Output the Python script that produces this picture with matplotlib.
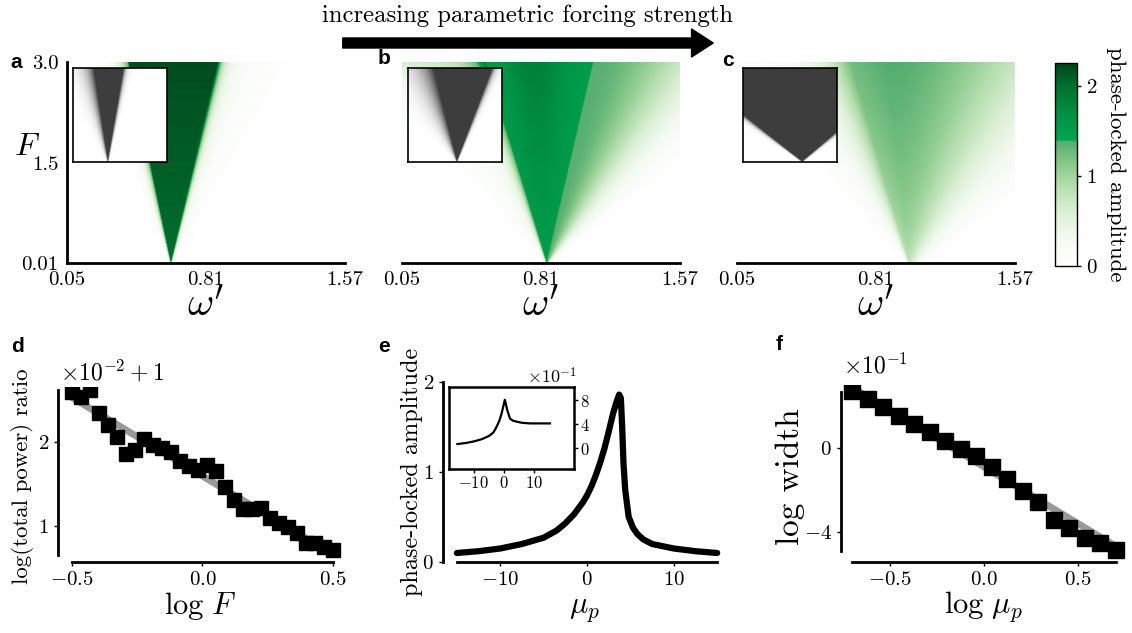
import numpy as np
import matplotlib
matplotlib.use('Agg')
import matplotlib.pyplot as plt
from matplotlib.colors import LinearSegmentedColormap
from matplotlib.patches import FancyArrowPatch

plt.rcParams['font.family'] = 'serif'
plt.rcParams['font.serif'] = ['cmr10']
plt.rcParams['mathtext.fontset'] = 'cm'
plt.rcParams['axes.formatter.use_mathtext'] = True
plt.rcParams['axes.unicode_minus'] = True

# ---------------- data ----------------
omega_range = [0.05, 1.57]
F_range = [0.01, 3.0]
omega_ticks = [0.05, 0.81, 1.57]
F_ticks = [0.01, 1.5, 3.0]

# tongue geometry of panels a, b, c (omega' of tip, left / right edge at F = 3)
tip_omega = [0.617, 0.841, 0.987]
left_top = [0.385, 0.509, 0.67]
right_top = [0.877, 1.096, 0.87]
amp_bottom = [2.0, 1.5, 0.6]
amp_top = [2.2, 1.85, 1.38]
fade_left = [0.05, 0.06, 0.2]
fade_right = [0.02, 0.6, 0.85]

# insets (fraction of inset width / height)
inset_tip = [0.37, 0.52, 0.63]
inset_left_top = [0.22, 0.27, -0.63]
inset_right_top = [0.54, 0.90, 1.79]
inset_fade_left = [0.08, 0.15, 0.07]
inset_fade_right = [0.02, 0.03, 0.07]

# colour scale of the amplitude maps
cmap_values = [0.0, 0.3, 0.6, 0.9, 1.15, 1.385, 1.40, 1.7, 2.0, 2.25]
cmap_colors = ['#ffffff', '#f3faf1', '#dcefd6', '#b2ddac', '#85c789', '#52ad6e',
               '#00a651', '#008f43', '#00702f', '#00441b']
amp_max = 2.25

# d
logF = [-0.5, -0.466, -0.431, -0.397, -0.362, -0.328, -0.293, -0.259, -0.224, -0.190,
        -0.155, -0.121, -0.086, -0.052, -0.017, 0.017, 0.052, 0.086, 0.121, 0.155,
        0.190, 0.224, 0.259, 0.293, 0.328, 0.362, 0.397, 0.431, 0.466, 0.5]
power_ratio = [2.59, 2.54, 2.62, 2.34, 2.20, 2.06, 1.86, 1.90, 2.03, 1.96,
               1.93, 1.88, 1.77, 1.71, 1.67, 1.73, 1.66, 1.46, 1.31, 1.20,
               1.20, 1.21, 1.10, 1.03, 0.99, 0.92, 0.80, 0.80, 0.75, 0.71]
d_fit_x = [-0.5, 0.5]
d_fit_y = [2.53, 0.66]

# e
mu_p = [-15, -12.5, -10, -7.5, -5, -3.5, -2.5, -1.5, -0.5, 0, 0.5, 1.0, 1.5, 2.0, 2.5,
        3.0, 3.4, 3.7, 3.9, 4.05, 4.2, 4.4, 4.8, 5.3, 5.8, 6.5, 7.5, 9, 10, 12.5, 15]
locked_amp = [0.10, 0.12, 0.15, 0.20, 0.27, 0.35, 0.43, 0.53, 0.66, 0.74, 0.84, 0.96,
              1.10, 1.26, 1.45, 1.65, 1.78, 1.86, 1.82, 1.50, 1.10, 0.80, 0.50, 0.38,
              0.31, 0.25, 0.20, 0.17, 0.15, 0.12, 0.10]
mu_inset = [-15.5, -12.5, -10, -7.5, -5, -3.5, -2.4, -1.5, -0.8, 0.3, 1.1, 2.0, 3.0,
            4.2, 6.0, 8.7, 12, 15.3]
amp_inset = [0.66, 0.85, 1.1, 1.45, 2.0, 2.6, 3.6, 4.6, 5.75, 8.05, 6.3, 4.9, 4.55,
             4.4, 4.2, 4.1, 4.1, 4.1]

# f
log_mu = [-0.70, -0.618, -0.535, -0.453, -0.371, -0.288, -0.206, -0.124, -0.041,
          0.041, 0.124, 0.206, 0.288, 0.371, 0.453, 0.535, 0.618, 0.70]
log_width = [2.72, 2.35, 1.95, 1.52, 1.12, 0.75, 0.35, -0.05, -0.40,
             -0.91, -1.49, -2.05, -2.56, -3.41, -3.81, -4.29, -4.53, -4.88]
f_fit_x = [-0.7, 0.7]
f_fit_y = [2.88, -4.68]


def amplitude_map(i, w, f):
    s = (f - F_range[0]) / (F_range[1] - F_range[0])
    L = tip_omega[i] + (left_top[i] - tip_omega[i]) * s
    R = tip_omega[i] + (right_top[i] - tip_omega[i]) * s
    A = amp_bottom[i] + (amp_top[i] - amp_bottom[i]) * s
    wl = 0.004 + fade_left[i] * s
    wr = 0.004 + fade_right[i] * s
    if i == 0:
        val = np.where((w >= L) & (w <= R), A, 0.0)
        val = np.where(w < L, 1.45 * np.exp(-(L - w) / wl), val)
        val = np.where(w > R, 1.45 * np.exp(-(w - R) / wr)
                       + 0.5 * np.exp(-(w - R) / (0.004 + 0.15 * s)), val)
    elif i == 1:
        C = tip_omega[i] + (0.77 - tip_omega[i]) * s
        core = amp_bottom[i] + (amp_top[i] - amp_bottom[i]) * s * np.exp(-((w - C) / (0.06 + 0.12 * s)) ** 2)
        val = np.where((w >= L) & (w <= R), core, 0.0)
        val = np.where(w < L, 1.0 * np.exp(-(L - w) / wl)
                       + 0.45 * np.exp(-(L - w) / (0.01 + 0.25 * s)) + 0.55 * s ** 6, val)
        val = np.where(w > R, 1.36 * np.exp(-((w - R) / (0.01 + fade_right[i] * s)) ** 2), val)
    else:
        A = amp_bottom[i] + (amp_top[i] - amp_bottom[i]) * s ** 0.35
        C = tip_omega[i] + (right_top[i] - tip_omega[i]) * s
        mid = A * (0.9 + 0.1 * (w - L) / (C - L + 1e-9))
        val = np.where(w < L, A * 0.9 * np.exp(-(L - w) / wl), mid)
        val = np.where(w > C, A * np.exp(-((w - C) / (0.05 + fade_right[i] * s)) ** 2), val)
    return val


def inset_map(i, u, v):
    L = inset_tip[i] + (inset_left_top[i] - inset_tip[i]) * v
    R = inset_tip[i] + (inset_right_top[i] - inset_tip[i]) * v
    val = np.where((u >= L) & (u <= R), 1.0, 0.0)
    val = np.where(u < L, np.exp(-(L - u) / (0.003 + inset_fade_left[i] * v)), val)
    val = np.where(u > R, np.exp(-(u - R) / (0.003 + inset_fade_right[i] * v)), val)
    return val


W_PX, H_PX = 1132, 633
fig = plt.figure(figsize=(11.32, 6.33), dpi=100)


def px_axes(left, top, right, bottom):
    return fig.add_axes([left / W_PX, 1 - bottom / H_PX, (right - left) / W_PX, (bottom - top) / H_PX])


amp_cmap = LinearSegmentedColormap.from_list(
    'amp', [(v / amp_max, c) for v, c in zip(cmap_values, cmap_colors)])
grey_cmap = LinearSegmentedColormap.from_list('grey', ['#ffffff', '#3d3d3d'])

ww, ff = np.meshgrid(np.linspace(omega_range[0], omega_range[1], 400),
                     np.linspace(F_range[0], F_range[1], 300))
uu, vv = np.meshgrid(np.linspace(0, 1, 150), np.linspace(0, 1, 150))

lefts = [67, 402, 737]
for i, x0 in enumerate(lefts):
    ax = px_axes(x0, 62, x0 + 278, 263)
    im = ax.imshow(amplitude_map(i, ww, ff), origin='lower', aspect='auto', cmap=amp_cmap,
                   vmin=0, vmax=amp_max, interpolation='bilinear',
                   extent=[omega_range[0], omega_range[1], F_range[0], F_range[1]])
    ax.set_xlim(omega_range)
    ax.set_ylim(F_range)
    for sp in ['top', 'right']:
        ax.spines[sp].set_visible(False)
    ax.spines['bottom'].set_linewidth(2)
    ax.spines['left'].set_linewidth(2)
    ax.set_xticks(omega_ticks)
    ax.set_xticklabels(['0.05', '0.81', '1.57'])
    ax.tick_params(length=0, labelsize=15, pad=6)
    ax.set_xlabel(r"$\omega'$", fontsize=29)
    ax.xaxis.set_label_coords(0.5, -0.215)
    ax.xaxis.label.set_va('center')
    if i == 0:
        ax.set_yticks(F_ticks)
        ax.set_yticklabels(['0.01', '1.5', '3.0'])
        ax.set_ylabel(r'$F$', fontsize=23, rotation=0)
        ax.yaxis.set_label_coords(-0.145, 0.575)
        ax.yaxis.label.set_va('center')
    else:
        ax.set_yticks([])
        ax.spines['left'].set_visible(False)

    ins = px_axes(x0 + 6, 68, x0 + 100, 162)
    ins.imshow(inset_map(i, uu, vv), origin='lower', aspect='auto', cmap=grey_cmap,
               vmin=0, vmax=1, interpolation='bilinear', extent=[0, 1, 0, 1])
    ins.set_xticks([])
    ins.set_yticks([])
    for sp in ins.spines.values():
        sp.set_linewidth(1.2)

# colorbar
cax = px_axes(1055, 63, 1077, 266)
cb = fig.colorbar(im, cax=cax, ticks=[0, 1, 2])
cb.outline.set_linewidth(1.0)
cax.tick_params(labelsize=15, length=3, width=1)
cb.set_label('phase-locked amplitude', fontsize=16.5, rotation=270, labelpad=20)

# arrow + title
arrow = FancyArrowPatch(posA=(340 / W_PX, 1 - 43 / H_PX), posB=(716 / W_PX, 1 - 43 / H_PX),
                        transform=fig.transFigure, color='black', mutation_scale=12,
                        arrowstyle='simple,head_length=1.3,head_width=1.68,tail_width=0.6')
fig.patches.append(arrow)
fig.text(527 / W_PX, 1 - 16 / H_PX, 'increasing parametric forcing strength',
         fontsize=17.8, ha='center', va='center')

# ---------------- d ----------------
axd = px_axes(58, 387, 343, 562)
axd.plot(d_fit_x, d_fit_y, color='#999999', lw=5, solid_capstyle='butt', zorder=1)
axd.plot(logF, power_ratio, 's', color='black', ms=10, zorder=2)
axd.set_xlim(-0.5536, 0.5383)
axd.set_ylim(0.5714, 2.655)
axd.set_xticks([-0.5, 0.0, 0.5])
axd.set_yticks([1, 2])
axd.spines['left'].set_bounds(0.65, 2.62)
axd.spines['bottom'].set_bounds(-0.5, 0.5)
axd.set_xlabel(r'$\log\,F$', fontsize=22)
axd.set_ylabel('log(total power) ratio', fontsize=16.5)
axd.xaxis.set_label_coords(0.5, -0.25)
axd.yaxis.set_label_coords(-0.125, 0.49)
axd.xaxis.label.set_va('center')
axd.yaxis.label.set_va('center')
fig.text(60 / W_PX, 1 - 372 / H_PX, r'$\times10^{-2}+1$', fontsize=17, va='center')

# ---------------- e ----------------
axe = px_axes(443, 382, 725, 562)
axe.plot(mu_p, locked_amp, color='black', lw=4.5, solid_capstyle='round', solid_joinstyle='round')
axe.set_xlim(-16.6, 15.9)
axe.set_ylim(0, 2.0)
axe.set_xticks([-10, 0, 10])
axe.set_yticks([0, 1, 2])
axe.spines['left'].set_bounds(0, 2)
axe.spines['bottom'].set_bounds(-15, 15)
axe.set_xlabel(r'$\mu_p$', fontsize=22)
axe.set_ylabel('phase-locked amplitude', fontsize=17.5)
axe.xaxis.set_label_coords(0.5, -0.27)
axe.yaxis.set_label_coords(-0.11, 0.5)
axe.xaxis.label.set_va('center')
axe.yaxis.label.set_va('center')

axi = px_axes(449, 387, 574, 469)
axi.plot(mu_inset, amp_inset, color='black', lw=1.6)
axi.set_xlim(-18.3, 23.3)
axi.set_ylim(-3.5, 10.17)
axi.set_xticks([-10, 0, 10])
axi.set_yticks([0, 4, 8])
axi.yaxis.tick_right()
axi.tick_params(labelsize=12, length=3, width=1, pad=1)
for sp in axi.spines.values():
    sp.set_linewidth(1.8)
fig.text(552 / W_PX, 1 - 376 / H_PX, r'$\times10^{-1}$', fontsize=13, ha='center', va='center')

# ---------------- f ----------------
axf = px_axes(841, 385, 1125, 562)
axf.plot(f_fit_x, f_fit_y, color='#999999', lw=5, solid_capstyle='butt', zorder=1)
axf.plot(log_mu, log_width, 's', color='black', ms=11.5, zorder=2)
axf.set_xlim(-0.761, 0.75)
axf.set_ylim(-5.43, 3.0)
axf.set_xticks([-0.5, 0.0, 0.5])
axf.set_yticks([-4, 0])
axf.spines['left'].set_bounds(-4.9, 2.67)
axf.spines['bottom'].set_bounds(-0.7, 0.7)
axf.set_xlabel(r'$\log\,\mu_p$', fontsize=22)
axf.set_ylabel('log width', fontsize=24)
axf.xaxis.set_label_coords(0.5, -0.25)
axf.yaxis.set_label_coords(-0.18, 0.48)
axf.xaxis.label.set_va('center')
axf.yaxis.label.set_va('center')
fig.text(843 / W_PX, 1 - 366 / H_PX, r'$\times10^{-1}$', fontsize=17, va='center')

for ax in (axd, axe, axf):
    for sp in ['top', 'right']:
        ax.spines[sp].set_visible(False)
    ax.spines['left'].set_linewidth(2)
    ax.spines['bottom'].set_linewidth(2)
    ax.tick_params(labelsize=15, length=3, width=1)

# panel letters
for letter, (x, y) in zip('abcdef', [(16, 62), (384, 58), (728, 60), (17, 346), (384, 346), (779, 345)]):
    fig.text(x / W_PX, 1 - y / H_PX, letter, fontsize=15, fontweight='bold',
             family='Liberation Sans', ha='center', va='center')

fig.savefig('out.png', dpi=100)
